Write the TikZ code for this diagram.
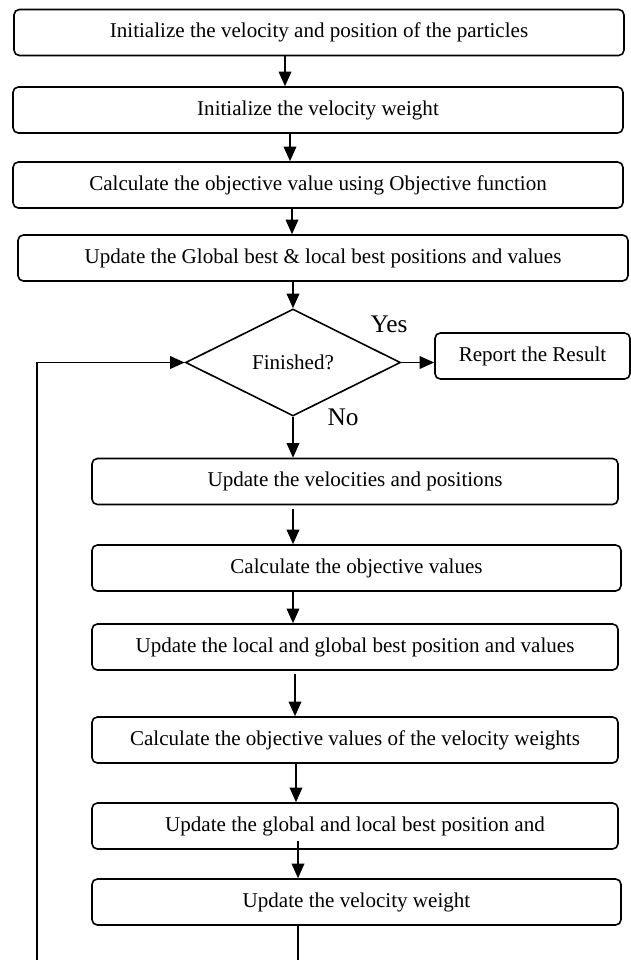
\documentclass[tikz,border=0pt]{standalone}
\usepackage{fontspec}
\setmainfont{Liberation Serif}
\usetikzlibrary{shapes.geometric,arrows.meta}

\tikzset{
  blk/.style={draw, line width=1.2pt, rounded corners=4pt, minimum height=34.5pt, inner sep=0pt, font=\fontsize{15.8}{19}\selectfont},
  dec/.style={draw, line width=1.2pt, shape=diamond, minimum width=161.25pt, minimum height=80.25pt, inner sep=0pt, font=\fontsize{15.8}{19}\selectfont},
  arr/.style={line width=1.2pt, -{Triangle[length=11pt,width=9.5pt]}},
  lbl/.style={inner sep=0pt, font=\fontsize{19}{22}\selectfont}
}

\begin{document}
\begin{tikzpicture}[x=0.75pt,y=0.75pt,yscale=-1,xscale=1]
        \useasboundingbox (0,0) rectangle (631,960);

        % boxes
        \node[blk, minimum width=457.5pt] (init) at (319,32.5) {Initialize the velocity and position of the particles};
        \node[blk, minimum width=457.5pt] (initw) at (318,110) {Initialize the velocity weight};
        \node[blk, minimum width=457.5pt] (objf) at (318,185) {Calculate the objective value using Objective function};
        \node[blk, minimum width=457.5pt] (best) at (323,258) {Update the Global best \& local best positions and values};
        \node[dec] (fin) at (293,362.5) {Finished?};
        \node[blk, minimum width=146.25pt] (res) at (532.5,356) {Report the Result};
        \node[blk, minimum width=394.5pt] (vel) at (355,481.5) {Update the velocities and positions};
        \node[blk, minimum width=396.75pt] (obj) at (356.5,568) {Calculate the objective values};
        \node[blk, minimum width=394.5pt] (lgb) at (355,647) {Update the local and global best position and values};
        \node[blk, minimum width=394.5pt] (objw) at (355,740) {Calculate the objective values of the velocity weights};
        \node[blk, minimum width=394.5pt] (glb) at (355,826) {Update the global and local best position and};
        \node[blk, minimum width=396.75pt] (velw) at (356.5,902) {Update the velocity weight};

        \node[lbl] (yes) at (389,324) {Yes};
        \node[lbl] (no) at (343,417) {No};

        \coordinate (bl) at (37,960);
        \coordinate (br) at (298,960);

        % arrows
        \draw[arr] (init.south -| 285,0) -- (initw.north -| 285,0);
        \draw[arr] (initw.south -| 290,0) -- (objf.north -| 290,0);
        \draw[arr] (objf.south -| 292,0) ++(0,-2) -- (best.north -| 292,0);
        \draw[arr] (best.south -| fin.north) -- (fin.north);
        \draw[arr] (fin.east) -- (fin.east -| res.west);
        \draw[arr] (fin.south) -- (vel.north -| fin.south);
        \draw[arr] (vel.south -| 293,0) ++(0,4) -- (obj.north -| 293,0);
        \draw[arr] (obj.south -| 293,0) -- (lgb.north -| 293,0);
        \draw[arr] (lgb.south -| 295,0) ++(0,3) -- (objw.north -| 295,0);
        \draw[arr] (objw.south -| 296,0) -- (glb.north -| 296,0);
        \draw[arr] (glb.south -| 298,0) ++(0,-9) -- (velw.north -| 298,0);
        \draw[line width=1.2pt] (velw.south -| br) -- (br);
        \draw[arr] (bl) |- (fin.west);
\end{tikzpicture}
\end{document}
